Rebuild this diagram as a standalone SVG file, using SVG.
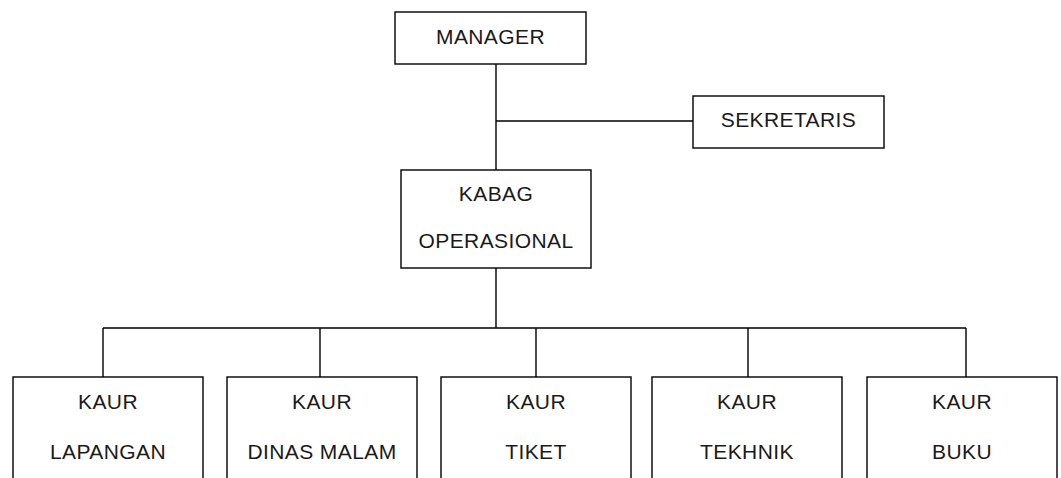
<svg xmlns="http://www.w3.org/2000/svg" width="1061" height="478" viewBox="0 0 1061 478">
<style>
.box{fill:#fff;stroke:#000;stroke-width:1.4}
.ln{fill:none;stroke:#000;stroke-width:1.4}
text{font-family:"Liberation Sans",Arial,sans-serif;font-size:21px;letter-spacing:0.4px;fill:#1a1a1a;text-anchor:middle}
</style>
<rect width="1061" height="478" fill="#fff"/>
<g id="connectors">
<path class="ln" d="M496,64 V170 M496,121 H693 M496,268 V328 M103,328 H966 M103,328 V377 M320,328 V377 M536,328 V377 M748,328 V377 M966,328 V377"/>
</g>
<g id="manager"><rect class="box" x="395" y="12" width="191" height="52"/><text x="490.5" y="43.5">MANAGER</text></g>
<g id="sekretaris"><rect class="box" x="693" y="96" width="191" height="52"/><text x="788.5" y="127">SEKRETARIS</text></g>
<g id="kabag"><rect class="box" x="401" y="170" width="190" height="98"/><text x="496" y="201">KABAG</text><text x="496" y="248">OPERASIONAL</text></g>
<g id="kaur-lapangan"><rect class="box" x="13" y="377" width="190" height="120"/><text x="108" y="408.5">KAUR</text><text x="108" y="458.5">LAPANGAN</text></g>
<g id="kaur-dinas-malam"><rect class="box" x="227" y="377" width="190" height="120"/><text x="322" y="408.5">KAUR</text><text x="322" y="458.5">DINAS MALAM</text></g>
<g id="kaur-tiket"><rect class="box" x="441" y="377" width="190" height="120"/><text x="536" y="408.5">KAUR</text><text x="536" y="458.5">TIKET</text></g>
<g id="kaur-tekhnik"><rect class="box" x="652" y="377" width="190" height="120"/><text x="747" y="408.5">KAUR</text><text x="747" y="458.5">TEKHNIK</text></g>
<g id="kaur-buku"><rect class="box" x="867" y="377" width="190" height="120"/><text x="962" y="408.5">KAUR</text><text x="962" y="458.5">BUKU</text></g>
</svg>
